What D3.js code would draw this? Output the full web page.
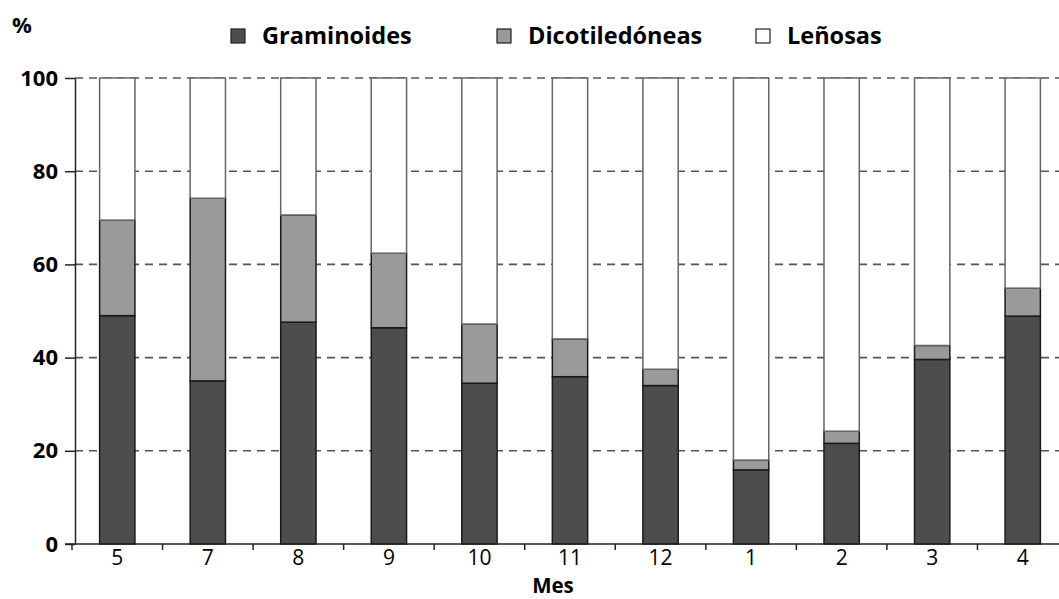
<!DOCTYPE html>
<html>
<head>
<meta charset="utf-8">
<script src="https://cdn.jsdelivr.net/npm/d3@7"></script>
<style>
  body { margin: 0; background: #fff; }
  text { font-family: "Open Sans", "DejaVu Sans", sans-serif; }
</style>
</head>
<body>
<div id="chart"></div>
<script>
// months, in the order shown on the x axis
var meses = ["5", "7", "8", "9", "10", "11", "12", "1", "2", "3", "4"];
// percentage of each group per month
var graminoides   = [49, 35, 47.6, 46.4, 34.5, 35.9, 34, 15.9, 21.6, 39.6, 48.9];
var dicotiledoneas = [20.5, 39.2, 23, 16, 12.7, 8.1, 3.5, 2.1, 2.6, 3, 6];
var yTicks = [0, 20, 40, 60, 80, 100];

var grupos = ["Graminoides", "Dicotiledóneas", "Leñosas"];
var colores = ["#4d4d4d", "#9a9a9a", "#ffffff"];

var width = 1059, height = 599;
var margin = {top: 78, right: 0, bottom: 55, left: 75};
var innerH = height - margin.top - margin.bottom;

var data = meses.map(function (m, i) {
    var g = graminoides[i], d = dicotiledoneas[i];
    return {mes: m, Graminoides: g, "Dicotiledóneas": d, "Leñosas": 100 - g - d};
});

var svg = d3.select("#chart").append("svg")
    .attr("width", width)
    .attr("height", height);

var g = svg.append("g")
    .attr("transform", "translate(" + margin.left + "," + margin.top + ")");

var x = d3.scaleBand()
    .domain(meses)
    .range([-3, 993])
    .paddingInner(0.61)
    .paddingOuter(0.305);

var y = d3.scaleLinear()
    .domain([0, 100])
    .range([innerH, 0]);

// dashed grid lines
g.append("g")
    .selectAll("line")
    .data(yTicks.filter(function (t) { return t > 0; }))
    .enter().append("line")
    .attr("x1", 0)
    .attr("x2", width - margin.left)
    .attr("y1", function (d) { return y(d); })
    .attr("y2", function (d) { return y(d); })
    .attr("stroke", "#555")
    .attr("stroke-width", 1.6)
    .attr("stroke-dasharray", "8,6");

// stacked bars
var stack = d3.stack().keys(grupos);
var series = stack(data);

g.append("g")
    .selectAll("g")
    .data(series)
    .enter().append("g")
    .attr("fill", function (d, i) { return colores[i]; })
    .attr("stroke", function (d, i) { return i == 2 ? "#666" : "#1a1a1a"; })
    .attr("stroke-width", 1.5)
    .selectAll("rect")
    .data(function (d) { return d; })
    .enter().append("rect")
    .attr("x", function (d) { return x(d.data.mes); })
    .attr("width", x.bandwidth())
    .attr("y", function (d) { return y(d[1]); })
    .attr("height", function (d) { return y(d[0]) - y(d[1]); });

// y axis
var yAxis = d3.axisLeft(y)
    .tickValues(yTicks)
    .tickSize(10)
    .tickSizeOuter(0)
    .tickPadding(7);

var yAxisG = g.append("g").call(yAxis);
yAxisG.select(".domain").attr("stroke", "#222").attr("stroke-width", 1.5);
yAxisG.selectAll(".tick line").attr("stroke", "#222").attr("stroke-width", 1.5);
yAxisG.selectAll(".tick text")
    .attr("font-size", 22)
    .attr("font-weight", "bold")
    .attr("fill", "#000")
    .style("font-family", "'Open Sans', sans-serif");

// x axis
var xAxis = d3.axisBottom(x)
    .tickSize(0)
    .tickPadding(6);

var xAxisG = g.append("g")
    .attr("transform", "translate(0," + innerH + ")")
    .call(xAxis);
xAxisG.select(".domain").remove();
xAxisG.selectAll(".tick text")
    .attr("font-size", 21)
    .attr("fill", "#000")
    .style("font-family", "'Open Sans', sans-serif");

g.append("line")
    .attr("x1", -10)
    .attr("x2", width - margin.left)
    .attr("y1", innerH)
    .attr("y2", innerH)
    .attr("stroke", "#222")
    .attr("stroke-width", 1.5);

// small ticks between months
g.append("g")
    .selectAll("line")
    .data(meses)
    .enter().append("line")
    .attr("x1", function (d) { return x(d) - x.step() * x.paddingInner() / 2; })
    .attr("x2", function (d) { return x(d) - x.step() * x.paddingInner() / 2; })
    .attr("y1", innerH)
    .attr("y2", innerH + 6)
    .attr("stroke", "#222")
    .attr("stroke-width", 1.5);

// axis titles
svg.append("text")
    .attr("x", 12)
    .attr("y", 33)
    .attr("font-size", 22)
    .attr("font-weight", "bold")
    .text("%");

svg.append("text")
    .attr("x", 553)
    .attr("y", 593)
    .attr("text-anchor", "middle")
    .attr("font-size", 20.5)
    .attr("font-weight", "bold")
    .text("Mes");

// legend
var legendX = [231, 497, 756];
var legend = svg.append("g")
    .selectAll("g")
    .data(grupos)
    .enter().append("g")
    .attr("transform", function (d, i) { return "translate(" + legendX[i] + ",29)"; });

legend.append("rect")
    .attr("width", 14)
    .attr("height", 14)
    .attr("fill", function (d, i) { return colores[i]; })
    .attr("stroke", "#222")
    .attr("stroke-width", 1.2);

legend.append("text")
    .attr("x", 31)
    .attr("y", 15)
    .attr("font-size", 23.5)
    .attr("font-weight", "bold")
    .text(function (d) { return d; });
</script>
</body>
</html>
